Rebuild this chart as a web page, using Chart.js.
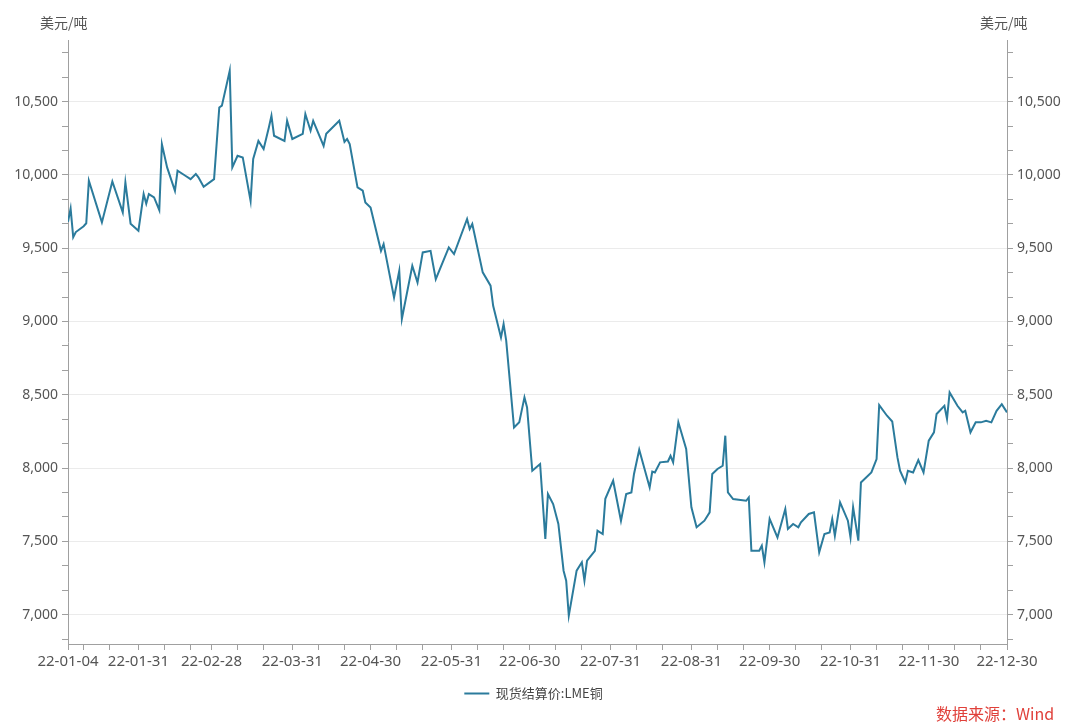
<!DOCTYPE html>
<html>
<head>
<meta charset="utf-8">
<script src="https://cdn.jsdelivr.net/npm/chart.js@4.4.0/dist/chart.umd.min.js"></script>
<style>
  body { margin: 0; background: #fff; font-family: "Noto Sans CJK SC", "Noto Sans", sans-serif; }
  .wrap { position: relative; width: 1067px; height: 722px; }
  .unit { position: absolute; top: 12px; font-size: 14px; color: #555; }
  .source { position: absolute; left: 936px; top: 701px; font-size: 16px; color: #e0403a; }
</style>
</head>
<body>
<div class="wrap">
  <canvas id="lmeChart"></canvas>
  <div class="unit" style="left:40px">美元/吨</div>
  <div class="unit" style="left:980px">美元/吨</div>
  <div class="source">数据来源：Wind</div>
</div>
<script>
// day of year 2022 (Jan 1 = 1)
const days = [4, 5, 6, 7, 10, 11, 12, 17, 21, 25, 26, 28, 31, 33, 34, 35, 37, 39, 40, 42,
  45, 46, 49, 51, 53, 54, 56, 60, 62, 63, 66, 67, 69, 71, 74, 75, 77, 79, 81, 82,
  83, 87, 88, 90, 94, 95, 97, 98, 102, 103, 108, 110, 111, 112, 115, 117, 118, 120, 124, 125,
  126, 129, 131, 132, 136, 138, 140, 143, 145, 150, 152, 157, 158, 159, 163, 166, 167, 170, 171, 172,
  175, 177, 179, 180, 182, 185, 187, 188, 190, 192, 194, 195, 196, 199, 201, 202, 203, 206, 207, 209,
  210, 213, 216, 218, 220, 221, 223, 227, 228, 229, 231, 234, 235, 236, 238, 241, 243, 245, 248, 250,
  251, 253, 255, 256, 257, 259, 264, 265, 266, 269, 270, 271, 273, 276, 279, 280, 282, 284, 285, 288,
  290, 292, 294, 296, 297, 298, 300, 303, 304, 305, 307, 308, 312, 314, 315, 318, 320, 322, 323, 325,
  326, 328, 330, 332, 334, 336, 337, 340, 341, 342, 345, 347, 348, 350, 352, 354, 356, 358, 360, 362,
  364];
const prices = [9680, 9770, 9575, 9610, 9650, 9670, 9960, 9676, 9955, 9744, 9948, 9667, 9619, 9869, 9803, 9869, 9846, 9760, 10210, 10051,
  9892, 10028, 9994, 9971, 10006, 9983, 9919, 9971, 10460, 10472, 10710, 10051, 10130, 10119, 9823, 10108, 10232, 10176, 10323, 10403,
  10267, 10232, 10369, 10245, 10280, 10415, 10301, 10369, 10198, 10280, 10369, 10225, 10245, 10210, 9915, 9892, 9812, 9778, 9482, 9528,
  9437, 9164, 9346, 9017, 9380, 9266, 9471, 9482, 9289, 9505, 9460, 9699, 9631, 9665, 9335, 9244, 9107, 8891, 8983, 8869,
  8277, 8312, 8482, 8414, 7982, 8028, 7516, 7823, 7755, 7619, 7300, 7232, 6993, 7300, 7357, 7232, 7368, 7436, 7573, 7550,
  7790, 7914, 7641, 7823, 7834, 7960, 8125, 7868, 7976, 7970, 8039, 8045, 8084, 8039, 8312, 8130, 7732, 7596, 7641, 7698,
  7960, 7994, 8016, 8221, 7834, 7789, 7777, 7800, 7436, 7436, 7471, 7357, 7653, 7527, 7721, 7585, 7619, 7596, 7630, 7687,
  7698, 7425, 7550, 7561, 7653, 7539, 7766, 7641, 7527, 7732, 7505, 7902, 7970, 8062, 8430, 8357, 8318, 8073, 7982, 7902,
  7982, 7970, 8055, 7970, 8187, 8244, 8369, 8425, 8335, 8516, 8425, 8380, 8391, 8244, 8312, 8312, 8323, 8312, 8391, 8436,
  8380];

const xLabelDays = [4, 31, 59, 90, 120, 151, 181, 212, 243, 273, 304, 334, 364];
const xLabels = ["22-01-04", "22-01-31", "22-02-28", "22-03-31", "22-04-30", "22-05-31", "22-06-30",
  "22-07-31", "22-08-31", "22-09-30", "22-10-31", "22-11-30", "22-12-30"];
const monthStarts = [1, 32, 60, 91, 121, 152, 182, 213, 244, 274, 305, 335];
const yMajor = [7000, 7500, 8000, 8500, 9000, 9500, 10000, 10500];
const yMin = 6800, yMax = 10920;

const lineColor = "#2b7b9c";
const seriesName = "现货结算价:LME铜";

// tick positions: month ends labelled, 10th and 20th unlabelled
const xTickDays = xLabelDays.concat(monthStarts.flatMap(s => [s + 9, s + 19])).sort((a, b) => a - b);
const yTickVals = [];
for (let v = 7000 - 500 / 3; v <= yMax; v += 500 / 3) yTickVals.push(Math.round(v * 1000) / 1000);

function isMajorY(v) {
  return yMajor.some(m => Math.abs(m - v) < 0.01);
}

function yAxis(position, width) {
  return {
    type: "linear",
    position: position,
    min: yMin,
    max: yMax,
    afterBuildTicks: (axis) => { axis.ticks = yTickVals.map(v => ({ value: v })); },
    afterFit: (axis) => { axis.width = width; },
    border: { color: "#a0a0a0" },
    grid: {
      drawOnChartArea: position === "left",
      color: (ctx) => ctx.tick && isMajorY(ctx.tick.value) ? "#ebebeb" : "rgba(0,0,0,0)",
      tickColor: "#a0a0a0",
      tickLength: 6
    },
    ticks: {
      autoSkip: false,
      padding: 4,
      color: "#555",
      font: { size: 14, family: "Noto Sans" },
      callback: (v) => isMajorY(v) ? Math.round(v).toLocaleString("en-US") : ""
    }
  };
}

const ctx = document.getElementById("lmeChart");
new Chart(ctx, {
  type: "line",
  data: {
    datasets: [{
      label: seriesName,
      data: days.map((d, i) => ({ x: d, y: prices[i] })),
      borderColor: lineColor,
      backgroundColor: lineColor,
      borderWidth: 2,
      pointRadius: 0,
      tension: 0,
      yAxisID: "y"
    }]
  },
  options: {
    responsive: true,
    maintainAspectRatio: false,
    animation: false,
    layout: { padding: { top: 40, left: 0, right: 0, bottom: 12 } },
    plugins: {
      tooltip: { enabled: false },
      legend: {
        position: "bottom",
        labels: {
          usePointStyle: true,
          pointStyle: "line",
          pointStyleWidth: 25,
          padding: 10,
          color: "#444",
          font: { size: 13, family: "Noto Sans CJK SC" }
        }
      }
    },
    scales: {
      x: {
        type: "linear",
        min: 4,
        max: 364,
        afterBuildTicks: (axis) => { axis.ticks = xTickDays.map(v => ({ value: v })); },
        afterFit: (axis) => { axis.height = 33; },
        border: { color: "#a0a0a0" },
        grid: { drawOnChartArea: false, tickColor: "#a0a0a0", tickLength: 6 },
        ticks: {
          autoSkip: false,
          maxRotation: 0,
          padding: 3,
          color: "#555",
          font: { size: 15, family: "Noto Sans" },
          callback: (v) => {
            const i = xLabelDays.indexOf(v);
            return i >= 0 ? xLabels[i] : "";
          }
        }
      },
      y: yAxis("left", 68),
      y1: yAxis("right", 60)
    }
  }
});
</script>
</body>
</html>
